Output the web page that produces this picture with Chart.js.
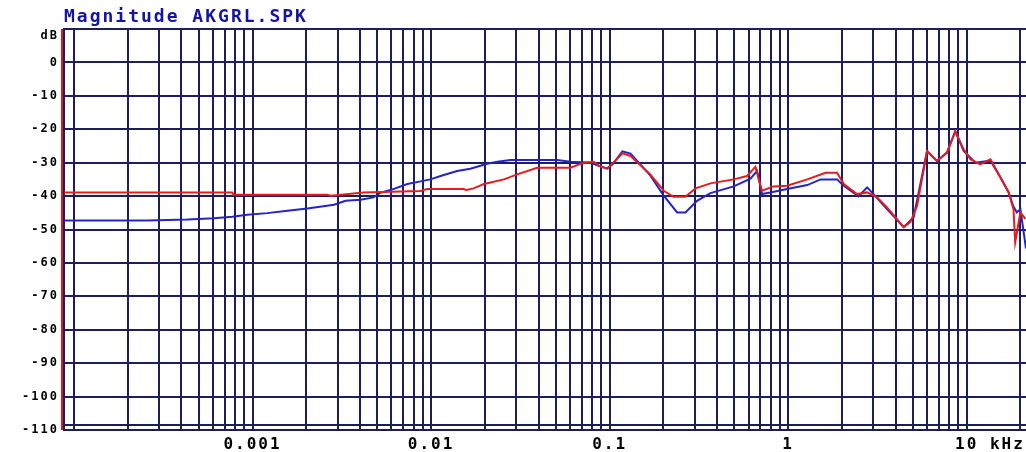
<!DOCTYPE html>
<html>
<head>
<meta charset="utf-8">
<title>Magnitude AKGRL.SPK</title>
<script src="https://cdn.jsdelivr.net/npm/chart.js@4/dist/chart.umd.min.js"></script>
<style>
  html, body { margin: 0; padding: 0; background: #ffffff; }
  #wrap { width: 1026px; height: 452px; }
</style>
</head>
<body>
<div id="wrap"><canvas id="mag" width="1026" height="452"></canvas></div>
<script>
// Frequency axis (kHz): limits, grid lines and the labelled decades
const freqMin = 0.0000879;
const freqMax = 21.5;
const gridFreqs = [
  0.0001, 0.0002, 0.0003, 0.0004, 0.0005, 0.0006, 0.0007, 0.0008, 0.0009,
  0.001, 0.002, 0.003, 0.004, 0.005, 0.006, 0.007, 0.008, 0.009,
  0.01, 0.02, 0.03, 0.04, 0.05, 0.06, 0.07, 0.08, 0.09,
  0.1, 0.2, 0.3, 0.4, 0.5, 0.6, 0.7, 0.8, 0.9,
  1, 2, 3, 4, 5, 6, 7, 8, 9,
  10, 20
];
const decadeFreqs = [0.001, 0.01, 0.1, 1, 10];
const decadeLabels = ['0.001', '0.01', '0.1', '1', '    10 kHz'];

// Level axis (dB)
const dbMin = -110;
const dbMax = 10;
const dbUnitLabel = 'dB';

// Blue trace
const blueFreq = [
  0.0000879, 0.000258, 0.000431, 0.000608, 0.00077, 0.000935, 0.00121, 0.00157, 0.00203, 0.00286,
  0.00332, 0.00403, 0.00476, 0.00521, 0.00593, 0.00736, 0.00874, 0.00993, 0.0113, 0.014,
  0.0166, 0.0206, 0.0235, 0.0279, 0.0509, 0.0604, 0.0782, 0.0853, 0.097, 0.104,
  0.118, 0.131, 0.169, 0.201, 0.239, 0.266, 0.309, 0.367, 0.496, 0.615,
  0.67, 0.714, 0.796, 0.987, 1.28, 1.52, 1.88, 2.05, 2.48, 2.77,
  3.01, 3.58, 4.44, 5.05, 6.0, 6.82, 7.76, 8.64, 9.62, 11.2,
  13.6, 15.5, 17.2, 18.2, 19.1, 20.0, 21.5
];
const blueDb = [
  -47.3, -47.3, -47.0, -46.6, -46.2, -45.6, -45.1, -44.4, -43.7, -42.6,
  -41.4, -41.1, -40.4, -39.0, -38.2, -36.4, -35.6, -35.0, -34.0, -32.5,
  -31.8, -30.3, -29.7, -29.2, -29.2, -29.7, -30.0, -30.8, -31.7, -30.5,
  -26.6, -27.3, -33.8, -39.9, -44.9, -44.9, -41.4, -39.1, -37.1, -34.8,
  -32.5, -39.4, -38.9, -37.9, -36.7, -35.0, -35.0, -36.9, -40.1, -37.4,
  -39.4, -43.9, -49.3, -46.3, -26.5, -29.5, -27.0, -20.6, -26.5, -30.0,
  -29.4, -34.5, -38.9, -42.9, -44.9, -43.9, -55.7
];

// Red trace
const redFreq = [
  0.0000879, 0.00077, 0.000783, 0.00262, 0.00274, 0.00419, 0.00874, 0.00952, 0.0152, 0.0158,
  0.0173, 0.0198, 0.0256, 0.0304, 0.0393, 0.0604, 0.0717, 0.0816, 0.0889, 0.097,
  0.105, 0.118, 0.131, 0.169, 0.201, 0.228, 0.266, 0.303, 0.367, 0.496,
  0.589, 0.656, 0.714, 0.83, 0.987, 1.28, 1.62, 1.88, 2.05, 2.43,
  2.77, 3.15, 3.58, 4.44, 4.84, 5.28, 6.0, 6.82, 7.76, 8.64,
  9.62, 10.5, 11.9, 13.6, 15.5, 17.2, 18.3, 18.7, 20.0, 21.3
];
const redDb = [
  -38.9, -38.9, -39.6, -39.6, -39.9, -38.9, -38.5, -37.9, -37.9, -38.2,
  -37.7, -36.4, -35.0, -33.5, -31.5, -31.5, -30.0, -29.7, -31.2, -31.8,
  -30.0, -27.2, -28.0, -33.5, -38.4, -40.2, -40.2, -37.7, -36.2, -35.0,
  -34.0, -31.2, -38.4, -37.1, -36.9, -35.0, -33.0, -33.0, -36.4, -39.4,
  -38.9, -40.4, -43.4, -49.3, -47.8, -42.9, -26.5, -29.5, -27.0, -20.6,
  -26.0, -29.0, -30.5, -29.0, -34.5, -38.9, -43.9, -53.8, -44.9, -46.8
];

const gridColor = '#1e1e5c';
const monoFont = "'DejaVu Sans Mono', 'Liberation Mono', monospace";

const toPoints = (xs, ys) => xs.map((x, i) => ({ x: x, y: ys[i] }));

// Wide, blocky lettering for every text on the canvas
const glyphSpacing = {
  id: 'glyphSpacing',
  beforeLayout(chart) { chart.ctx.letterSpacing = '2px'; },
  beforeDraw(chart) { chart.ctx.letterSpacing = '2px'; }
};

// Frame details: red marker along the left edge, inner rule above the bottom edge
const frameDetails = {
  id: 'frameDetails',
  afterDraw(chart) {
    const { ctx, chartArea } = chart;
    ctx.save();
    ctx.lineWidth = 2;
    ctx.strokeStyle = '#e01818';
    ctx.beginPath();
    ctx.moveTo(chartArea.left - 2, chartArea.top);
    ctx.lineTo(chartArea.left - 2, chartArea.bottom);
    ctx.stroke();
    ctx.strokeStyle = gridColor;
    ctx.beginPath();
    ctx.moveTo(chartArea.left, chartArea.bottom - 5);
    ctx.lineTo(chartArea.right, chartArea.bottom - 5);
    ctx.stroke();
    ctx.restore();
  }
};

new Chart(document.getElementById('mag'), {
  type: 'line',
  data: {
    datasets: [
      {
        label: 'Red',
        data: toPoints(redFreq, redDb),
        borderColor: '#e41c1c',
        borderWidth: 2,
        pointRadius: 0,
        tension: 0,
        fill: false
      },
      {
        label: 'Blue',
        data: toPoints(blueFreq, blueDb),
        borderColor: '#2424c4',
        borderWidth: 2,
        pointRadius: 0,
        tension: 0,
        fill: false
      }
    ]
  },
  options: {
    responsive: false,
    animation: false,
    devicePixelRatio: 1,
    layout: { padding: 0 },
    plugins: {
      legend: { display: false },
      tooltip: { enabled: false },
      title: {
        display: true,
        text: 'Magnitude AKGRL.SPK',
        align: 'start',
        fullSize: false,
        color: '#1414a0',
        font: { family: monoFont, size: 18, weight: 'bold', lineHeight: 1.2 },
        padding: { top: 7, bottom: 0.4 }
      }
    },
    scales: {
      x: {
        type: 'logarithmic',
        min: freqMin,
        max: freqMax,
        afterBuildTicks(scale) {
          scale.ticks = gridFreqs.map(v => ({ value: v }));
        },
        afterFit(scale) { scale.height = 22; },
        grid: { color: gridColor, lineWidth: 2, drawTicks: false },
        border: { display: false },
        ticks: {
          autoSkip: false,
          maxRotation: 0,
          minRotation: 0,
          padding: 5,
          color: '#000000',
          font: { family: monoFont, size: 16, weight: 'bold' },
          callback(value) {
            const i = decadeFreqs.findIndex(d => Math.abs(d - value) / d < 1e-6);
            return i >= 0 ? decadeLabels[i] : '';
          }
        }
      },
      y: {
        min: dbMin,
        max: dbMax,
        afterFit(scale) { scale.width = 64; },
        grid: { color: gridColor, lineWidth: 2, drawTicks: false },
        border: { display: true, color: gridColor, width: 2 },
        ticks: {
          stepSize: 10,
          padding: 5,
          color: '#000000',
          font: { family: monoFont, size: 12, weight: 'bold', lineHeight: 1.2 },
          callback(value) {
            return value === dbMax ? ['', dbUnitLabel] : String(value);
          }
        }
      }
    }
  },
  plugins: [glyphSpacing, frameDetails]
});
</script>
</body>
</html>
